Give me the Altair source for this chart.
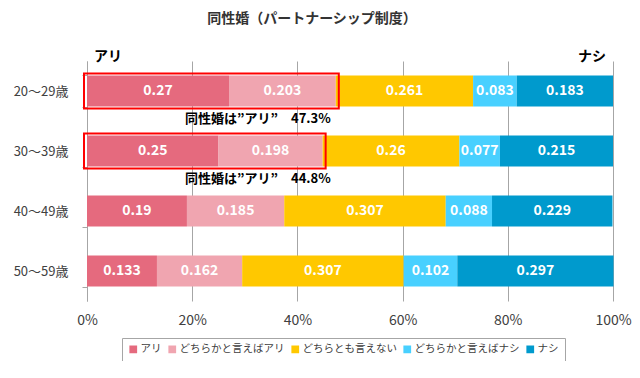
import altair as alt
import pandas as pd

ages = ["20～29歳", "30～39歳", "40～49歳", "50～59歳"]
categories = ["アリ", "どちらかと言えばアリ", "どちらとも言えない", "どちらかと言えばナシ", "ナシ"]
colors = ["#E56A7E", "#F0A5B0", "#FFC800", "#48D0FF", "#009ACD"]

ari = [0.27, 0.25, 0.19, 0.133]
dochira_ari = [0.203, 0.198, 0.185, 0.162]
neutral = [0.261, 0.26, 0.307, 0.307]
dochira_nashi = [0.083, 0.077, 0.088, 0.102]
nashi = [0.183, 0.215, 0.229, 0.297]

series = [ari, dochira_ari, neutral, dochira_nashi, nashi]

# highlighted rows
hl_ages = ["20～29歳", "30～39歳"]
hl_totals = [0.473, 0.448]
hl_texts = ["同性婚は”アリ”　47.3%", "同性婚は”アリ”　44.8%"]
hl_text_x = [0.325, 0.325]

FONT = "Noto Sans CJK JP"

rows = []
for ci, (cat, vals) in enumerate(zip(categories, series)):
    for ai, age in enumerate(ages):
        rows.append({"age": age, "cat": cat, "order": ci, "value": vals[ai], "label": str(vals[ai])})
df = pd.DataFrame(rows)

hl = pd.DataFrame({"age": hl_ages, "total": hl_totals, "text": hl_texts, "tx": hl_text_x, "zero": [0, 0]})

yscale = alt.Scale(domain=ages, paddingInner=0.48, paddingOuter=0.24)
xscale = alt.Scale(domain=[0, 1], nice=False)

base = alt.Chart(df).transform_stack(
    stack="value", groupby=["age"], as_=["x0", "x1"], sort=[alt.SortField("order")]
).transform_calculate(mid="(datum.x0 + datum.x1) / 2")

bars = base.mark_bar().encode(
    y=alt.Y("age:N", scale=yscale, title=None,
            axis=alt.Axis(labelFont=FONT, labelFontSize=13, labelColor="#404040", labelPadding=14,
                          domainColor="#A6A6A6", tickColor="#A6A6A6", tickSize=5, tickBand="extent",
                          grid=False)),
    x=alt.X("x0:Q", scale=xscale, title=None,
            axis=alt.Axis(format="%", values=[0, 0.2, 0.4, 0.6, 0.8, 1.0], labelFont=FONT,
                          labelFontSize=14, labelColor="#404040", labelPadding=12, labelFlush=False,
                          domain=False, ticks=False, grid=True, gridColor="#A6A6A6", gridWidth=1)),
    x2="x1:Q",
    color=alt.Color("cat:N", scale=alt.Scale(domain=categories, range=colors),
                    sort=categories, title=None,
                    legend=alt.Legend(orient="none", direction="horizontal", columns=5,
                                      legendX=35, legendY=277, symbolType="square", symbolSize=60,
                                      symbolStrokeWidth=0, labelFont=FONT, labelFontSize=10.5,
                                      labelColor="#404040", padding=6, strokeColor="#A6A6A6",
                                      fillColor="white", columnPadding=5, labelOffset=2)),
    order=alt.Order("order:Q"),
)

labels = base.mark_text(font=FONT, fontSize=14, fontWeight="bold", color="white").encode(
    y=alt.Y("age:N", scale=yscale),
    x=alt.X("mid:Q", scale=xscale),
    text="label:N",
)

boxes = alt.Chart(hl).mark_bar(fill=None, fillOpacity=0, stroke="#FF0000", strokeWidth=2, size=35,
                               xOffset=-3, x2Offset=3).encode(
    y=alt.Y("age:N", scale=yscale),
    x=alt.X("zero:Q", scale=xscale),
    x2="total:Q",
)

notes = alt.Chart(hl).mark_text(font=FONT, fontSize=13, fontWeight="bold", color="#000000",
                                yOffset=28).encode(
    y=alt.Y("age:N", scale=yscale),
    x=alt.X("tx:Q", scale=xscale),
    text="text:N",
)

ends = pd.DataFrame({"pos": [0, 1], "txt": ["アリ", "ナシ"]})
end_left = alt.Chart(ends.iloc[[0]]).mark_text(font=FONT, fontSize=14, fontWeight="bold", color="#000000",
                                               align="left", baseline="bottom", dx=7).encode(
    x=alt.X("pos:Q", scale=xscale), y=alt.value(3), text="txt:N")
end_right = alt.Chart(ends.iloc[[1]]).mark_text(font=FONT, fontSize=14, fontWeight="bold", color="#000000",
                                                align="right", baseline="bottom", dx=-7).encode(
    x=alt.X("pos:Q", scale=xscale), y=alt.value(3), text="txt:N")

chart = alt.layer(bars, labels, boxes, notes, end_left, end_right).properties(
    width=526, height=240,
    title=alt.TitleParams("同性婚（パートナーシップ制度）", font=FONT, fontSize=14, fontWeight="bold",
                          color="#333333", anchor="middle", dx=-38, offset=24),
    autosize=alt.AutoSizeParams(type="none"),
    padding={"left": 79, "top": 53, "right": 19, "bottom": 60},
).configure_view(stroke=None)

chart.save("out.html", embed_options={"renderer": "svg", "actions": False})
